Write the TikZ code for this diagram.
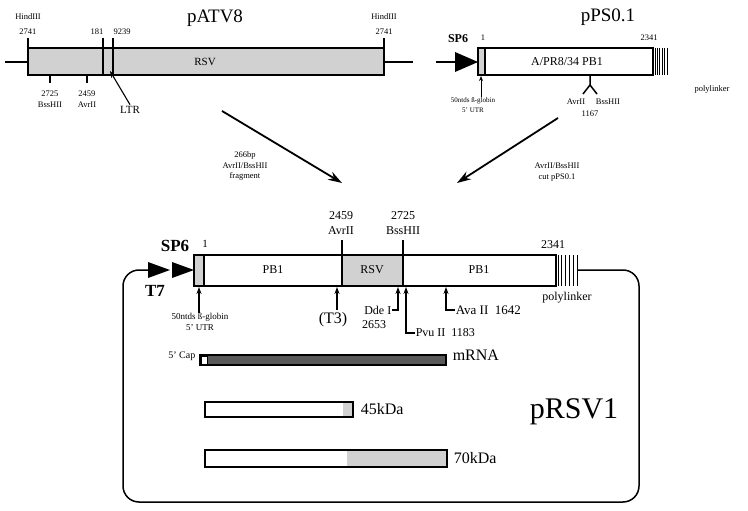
\documentclass[tikz,border=0pt]{standalone}
\usepackage{fontspec}
\setmainfont{Liberation Serif}
\usetikzlibrary{arrows.meta, calc}
\tikzset{>={Stealth[length=7pt,width=5pt]}, font=\fontsize{8}{9}\selectfont}
\tikzset{seg/.style={draw, fill=white}, stip/.style={draw, fill=black!18},
  tiny/.style={font=\fontsize{8.5}{10.5}\selectfont, inner sep=0pt, align=center},
  lab/.style={font=\fontsize{12}{13}\selectfont, inner sep=0pt},
  bigb/.style={font=\bfseries\fontsize{17}{18}\selectfont, inner sep=0pt},
  ttl/.style={font=\fontsize{19}{20}\selectfont, inner sep=0pt},
  sarr/.style={->, line width=1.1pt},
  barr/.style={-{Stealth[length=14pt,width=9pt]}, line width=1.8pt}}

\begin{document}
\begin{tikzpicture}[x=1pt, y=-1pt, line width=1.5pt]
  \useasboundingbox (0,0) rectangle (748,511);
  % pATV8
  \draw (5,62) -- (28,62); \draw (384,62) -- (413,62);
  \draw[stip] (28,48) rectangle (384,75);
  \foreach \x in {28, 384} \draw (\x,38) -- (\x,48);
  \foreach \x in {103, 113} \draw (\x,38) -- (\x,75);
  \foreach \x in {50, 87} \draw (\x,75) -- (\x,83);
  \node[ttl] (atv) at (215,18) {pATV8};
  \node[tiny] (h1) at (28,17) {HindIII};
  \node[tiny] (n1) at (28,32) {2741};
  \node[tiny] (h2) at (384,17) {HindIII};
  \node[tiny] (n2) at (384,32) {2741};
  \node[tiny] (n181) at (97,32) {181};
  \node[tiny] (n9239) at (122,32) {9239};
  \node[font=\fontsize{11}{12}\selectfont] (rsv) at (205,62) {RSV};
  \node[tiny] (bss) at (50,99) {2725\\BssHII};
  \node[tiny] (avr) at (87,99) {2459\\AvrII};
  \node[font=\fontsize{11}{12}\selectfont, inner sep=1pt] (ltr) at (130,110) {LTR};
  \coordinate (ltrtip) at (110,71);
  \draw[sarr] (ltr.north) -- (ltrtip);

  % pPS0.1
  \node[ttl] (pps) at (608,17) {pPS0.1};
  \draw (436,62) -- (455,62);
  \fill (455,52) -- (478,62) -- (455,72) -- cycle;
  \node[font=\bfseries\fontsize{12}{13}\selectfont, inner sep=0pt] (sp6a) at (458,39) {SP6};
  \node[tiny] (one) at (483,38) {1};
  \draw[stip] (478,48) rectangle (485,75);
  \draw[seg] (485,48) rectangle (653,75);
  \node[font=\fontsize{12}{13}\selectfont] (pb1) at (567,62) {A/PR8/34 PB1};
  \node[tiny] (n2341) at (649,38) {2341};
  \foreach \i in {0,...,5} \draw[line width=0.9pt] ({655+2.4*\i},48) -- ++(0,27);
  \node[tiny] (poly) at (712,89) {polylinker};
  \node[tiny, font=\fontsize{7}{10}\selectfont] (utr) at (473,105) {50ntds ß-globin\\5' UTR};
  \coordinate (utrtip) at (481,76);
  \draw[sarr, line width=0.9pt, >={Stealth[length=5pt,width=4pt]}] (481,97) -- (utrtip);
  \draw (590,75) -- (590,85) -- (583,94); \draw (590,85) -- (597,94);
  \node[tiny] (avr2) at (576,102) {AvrII};
  \node[tiny] (bss2) at (608,102) {BssHII};
  \node[tiny] (n1167) at (590,114) {1167};

  % joining arrows
  \coordinate (a1) at (222,111); \coordinate (a2) at (342,183);
  \coordinate (b1) at (558,118); \coordinate (b2) at (457,183);
  \draw[barr] (a1) -- (a2);
  \draw[barr] (b1) -- (b2);
  \node[tiny] (frag) at (245,166) {266bp\\AvrII/BssHII\\fragment};
  \node[tiny] (cut) at (557,172) {AvrII/BssHII\\cut pPS0.1};

  % pRSV1
  \draw[rounded corners=16pt] (577,270) -- (639,270) -- (639,502) -- (123,502) -- (123,270) -- (148,270);
  \fill (148,262) -- (170,270) -- (148,278) -- cycle;
  \fill (172,262) -- (194,270) -- (172,278) -- cycle;
  \node[bigb] (sp6) at (175,246) {SP6};
  \node[bigb] (t7) at (155,291) {T7};
  \node[lab, font=\fontsize{11}{12}\selectfont] (one2) at (205,244) {1};
  \draw[stip] (194,255) rectangle (204,286);
  \draw[seg] (204,255) rectangle (342,286);
  \draw[stip] (342,255) rectangle (403,286);
  \draw[seg] (403,255) rectangle (556,286);
  \node[lab] (pb1a) at (273,270) {PB1};
  \node[lab] (rsv2) at (372,270) {RSV};
  \node[lab] (pb1b) at (479,270) {PB1};
  \foreach \x in {342, 403} \draw (\x,240) -- (\x,255);
  \node[lab, align=center, font=\fontsize{12}{15}\selectfont] (avr3) at (341,223) {2459\\AvrII};
  \node[lab, align=center, font=\fontsize{12}{15}\selectfont] (bss3) at (403,223) {2725\\BssHII};
  \node[lab] (n2341b) at (553,245) {2341};
  \foreach \i in {0,...,5} \draw[line width=1pt] ({558+3.8*\i},255) -- ++(0,31);
  \node[lab] (poly2) at (567,298) {polylinker};
  \node[tiny, font=\fontsize{9}{11}\selectfont] (utr2) at (200,322) {50ntds ß-globin\\5' UTR};
  \coordinate (utr2tip) at (199,287);
  \draw[sarr] (utr2.north -| utr2tip) -- (utr2tip);
  \node[font=\fontsize{16}{17}\selectfont, inner sep=0pt] (t3) at (333,320) {(T3)};
  \coordinate (t3tip) at (337,287);
  \draw[sarr] (337,310) -- (t3tip);
  \node[lab, anchor=east] (dde) at (392,310) {Dde I};
  \node[lab] (n2653) at (374,325) {2653};
  \coordinate (ddetip) at (398,287);
  \draw[sarr] (dde.east) -| (ddetip);
  \node[lab, anchor=west] (pvu) at (415,333) {Pvu II\enspace 1183};
  \coordinate (pvutip) at (406,287);
  \draw[sarr] (pvu.west) -| (pvutip);
  \node[lab, anchor=west, font=\fontsize{13}{14}\selectfont] (ava) at (455,310) {Ava II\enspace 1642};
  \coordinate (avatip) at (446,287);
  \draw[sarr] (ava.west) -| (avatip);

  % transcripts
  \draw[line width=1.2pt, fill=black!65] (200,355) rectangle (446,365);
  \draw[line width=0.8pt, fill=white] (201,356) rectangle (207,364);
  \node[lab, anchor=east, font=\fontsize{10}{11}\selectfont] (cap) at (196,356) {5' Cap};
  \node[lab, anchor=west, font=\fontsize{16}{17}\selectfont] (mrna) at (452,355) {mRNA};
  \fill[black!18] (343,402) rectangle (353,417);
  \draw[line width=1.2pt] (205,402) rectangle (353,417);
  \node[lab, anchor=west, font=\fontsize{16}{17}\selectfont] (k45) at (360,409) {45kDa};
  \fill[black!18] (347,450) rectangle (447,467);
  \draw[line width=1.2pt] (205,450) rectangle (447,467);
  \node[lab, anchor=west, font=\fontsize{16}{17}\selectfont] (k70) at (453,458) {70kDa};
  \node[font=\fontsize{30}{32}\selectfont, inner sep=0pt] (prsv) at (574,412) {pRSV1};
\end{tikzpicture}
\end{document}
